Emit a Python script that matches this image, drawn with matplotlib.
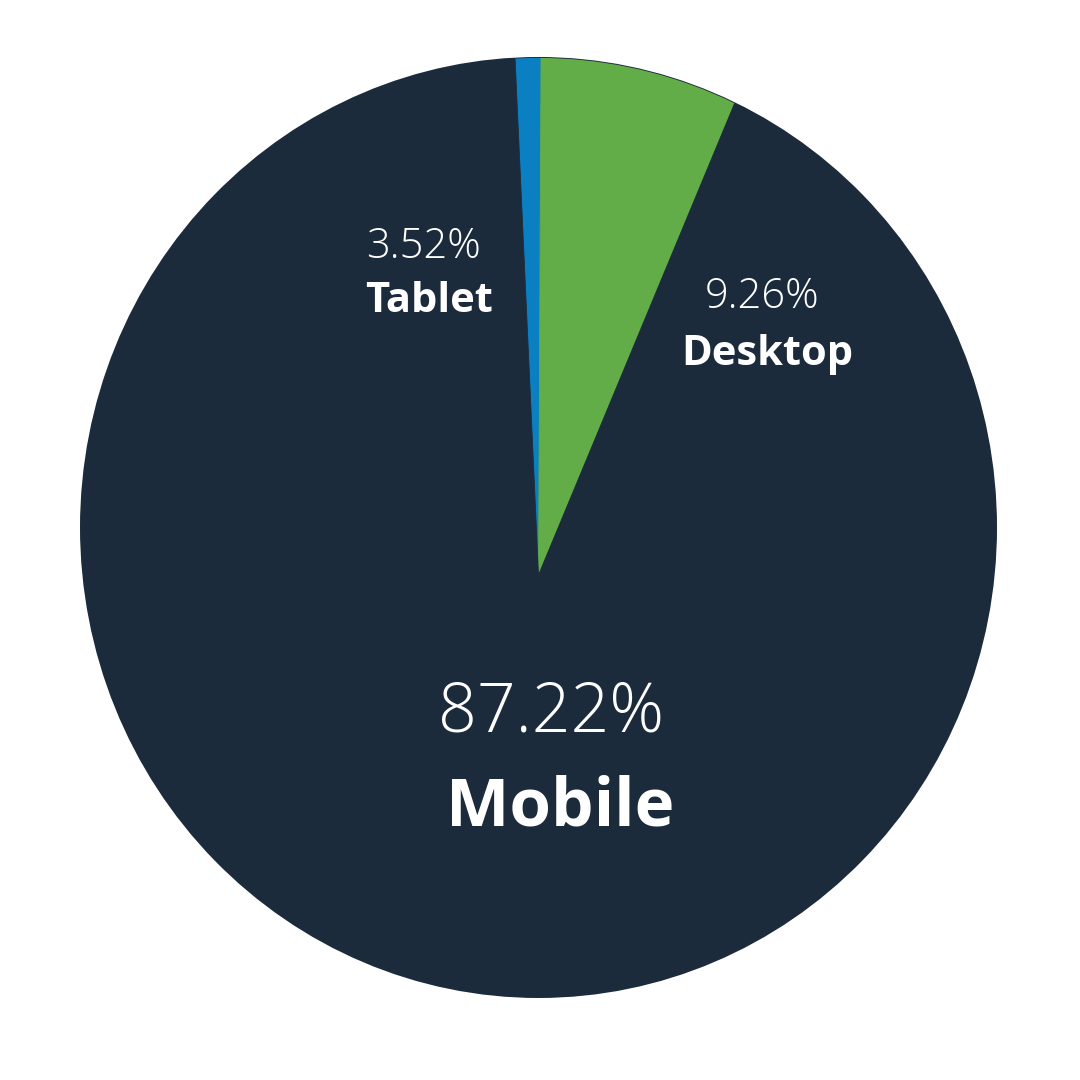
import matplotlib
matplotlib.use("Agg")
import matplotlib.pyplot as plt
from matplotlib.patches import Circle
from matplotlib import font_manager

# Data
categories = ["Tablet", "Desktop", "Mobile"]
label_values = ["3.52%", "9.26%", "87.22%"]
# angular shares as drawn in the picture (percent of the full turn)
shares = [0.82, 6.34, 92.84]
colors = ["#0a7fc1", "#62ad47", "#1c2b3c"]

names = {f.name for f in font_manager.fontManager.ttflist}
fam = ["Open Sans", "DejaVu Sans"] if "Open Sans" in names else ["DejaVu Sans"]

fig = plt.figure(figsize=(10.8, 10.8), dpi=100)
ax = fig.add_axes([0, 0, 1, 1])

wedges, _ = ax.pie(shares, colors=colors, startangle=92.67, counterclock=False,
                   wedgeprops=dict(linewidth=0.6), radius=1)
# smooth anti-aliased disc underneath
bg = Circle((0, 0), 1.0, facecolor=colors[2], edgecolor="none", zorder=0)
ax.add_patch(bg)
clip = Circle((0, 0), 0.998, transform=ax.transData)
for w, c in zip(wedges, colors):
    w.set_center((0, -0.101))
    w.set_radius(1.4)
    w.set_edgecolor(c)
    w.set_clip_on(True)
    w.set_clip_path(clip)

ax.set_aspect("auto")
ax.set_xlim(-1.1745, 1.1810)
ax.set_ylim(-1.1743, 1.1211)
ax.axis("off")

def px(x, y):
    return x / 1080, 1 - y / 1080

small_num = 30
small_lab = 30
big_num = 49
big_lab = 48.5

kw = dict(transform=ax.transAxes, ha="center", va="baseline", color="white", family=fam)
ax.text(*px(423, 258), label_values[0], fontsize=small_num, fontweight="light", **kw)
ax.text(*px(429.5, 312), categories[0], fontsize=small_lab, fontweight="bold", **kw)
ax.text(*px(762, 308), label_values[1], fontsize=small_num, fontweight="light", **kw)
ax.text(*px(767.5, 365), categories[1], fontsize=small_lab, fontweight="bold", **kw)
ax.text(*px(551.5, 732), label_values[2], fontsize=big_num, fontweight="light", **kw)
ax.text(*px(560.5, 825), categories[2], fontsize=big_lab, fontweight="bold", **kw)

fig.savefig("out.png", dpi=100, facecolor="white")
